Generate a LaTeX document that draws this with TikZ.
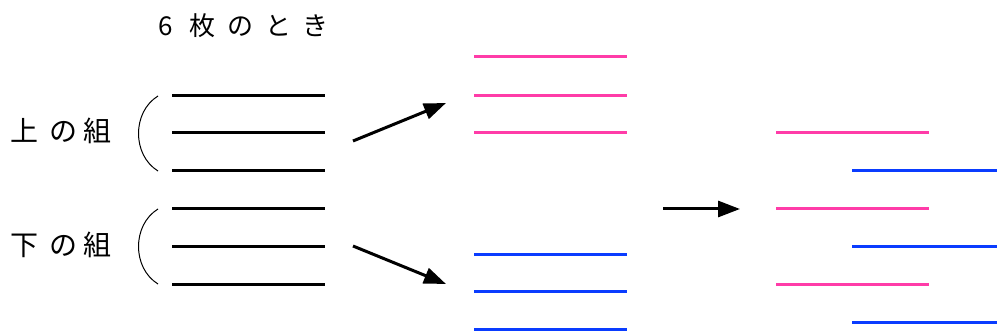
\documentclass[tikz,border=0pt]{standalone}
\usepackage{fontspec}
\newfontfamily\jpfont{Noto Sans CJK JP}[Scale=1]
\usetikzlibrary{arrows.meta}
\definecolor{pinkline}{HTML}{FF3CA8}
\definecolor{blueline}{HTML}{0A3CFF}
\tikzset{
  blk/.style={line width=3pt, black},
  pnk/.style={line width=3pt, pinkline},
  blu/.style={line width=3pt, blueline},
  brace/.style={line width=1pt, black},
  arr/.style={line width=3pt, -{Triangle[length=22pt,width=16pt]}},
  lbl/.style={font=\jpfont\fontsize{28}{28}\selectfont, inner sep=0pt, anchor=west},
  ttl/.style={font=\jpfont\fontsize{26}{26}\selectfont, inner sep=0pt, anchor=west},
}
\begin{document}
\begin{tikzpicture}[x=1pt,y=-1pt]
\useasboundingbox (0,0) rectangle (997,334);
% title
\node[ttl] (title) at (158,26) {6\hspace{17pt}枚\hspace{12pt}の\hspace{12pt}と\hspace{11pt}き};
% labels
\node[lbl] (upper) at (10,131) {上\hspace{11pt}の\hspace{6pt}組};
\node[lbl] (lower) at (10,245) {下\hspace{11pt}の\hspace{6pt}組};
% brackets
\draw[brace] (158,96) .. controls (132,112) and (132,155) .. (158,171);
\draw[brace] (158,209) .. controls (132,225) and (132,268) .. (158,284);
% black lines
\foreach \y in {96,133,171,209,247,284} \draw[blk] (172,\y) -- (325,\y);
% pink and blue middle
\foreach \y in {57,95.5,133} \draw[pnk] (474,\y) -- (627,\y);
\foreach \y in {254,291.5,329} \draw[blu] (474,\y) -- (627,\y);
% right
\foreach \y in {133,209,284} \draw[pnk] (776,\y) -- (929,\y);
\foreach \y in {171,247,322} \draw[blu] (852,\y) -- (997,\y);
% arrows
\coordinate (a1s) at (353,141);
\coordinate (a1e) at (446,103);
\coordinate (a2s) at (353,246);
\coordinate (a2e) at (446,284);
\coordinate (a3s) at (663,209);
\coordinate (a3e) at (740,209);
\draw[arr] (a1s) -- (a1e);
\draw[arr] (a2s) -- (a2e);
\draw[arr] (a3s) -- (a3e);
\end{tikzpicture}
\end{document}
